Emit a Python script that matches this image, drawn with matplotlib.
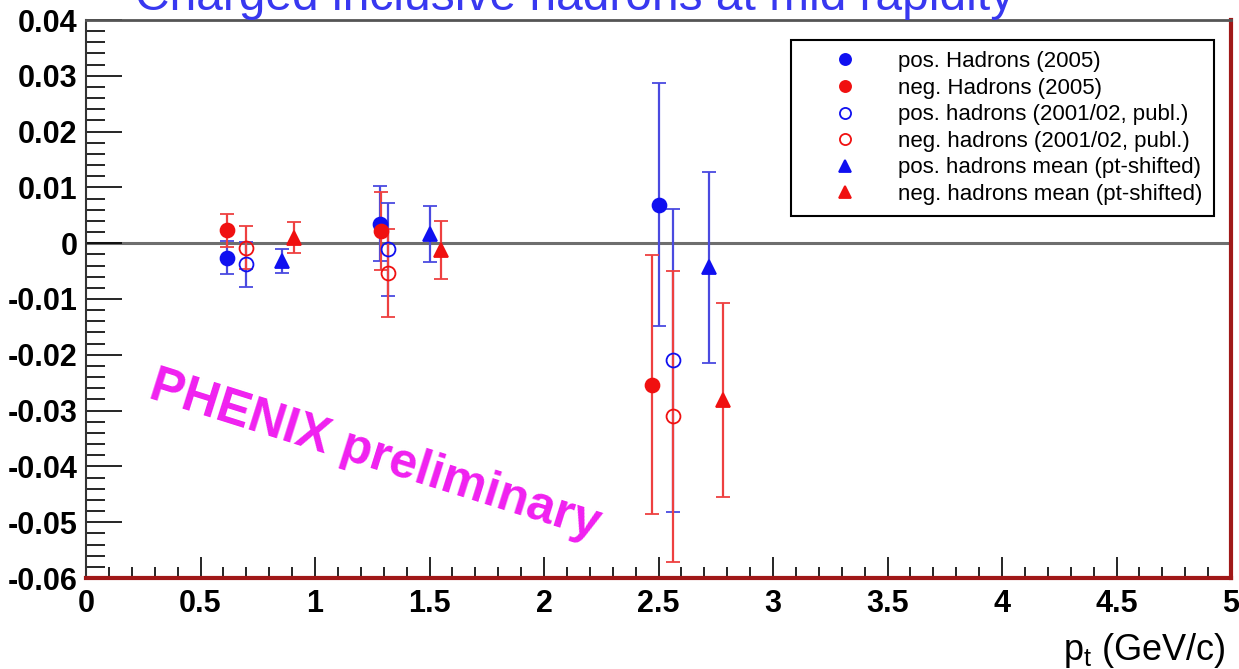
import matplotlib
matplotlib.use('Agg')
import matplotlib.pyplot as plt
from matplotlib.lines import Line2D
from matplotlib.ticker import MultipleLocator, FuncFormatter

plt.rcParams['font.family'] = ['Liberation Sans', 'DejaVu Sans']

# pos./neg. hadrons 2005
pos05_x = [0.614, 1.284, 2.503]
pos05_y = [-0.0026, 0.0035, 0.0069]
pos05_err = [0.0030, 0.0067, 0.0218]
neg05_x = [0.614, 1.290, 2.470]
neg05_y = [0.0023, 0.0022, -0.0254]
neg05_err = [0.0030, 0.0070, 0.0232]

# 2001/02 published
pos02_x = [0.697, 1.320, 2.565]
pos02_y = [-0.0038, -0.0011, -0.0210]
pos02_err = [0.0041, 0.0083, 0.0271]
neg02_x = [0.697, 1.320, 2.565]
neg02_y = [-0.0008, -0.0053, -0.0310]
neg02_err = [0.0038, 0.0079, 0.0261]

# mean values (pt-shifted)
posm_x = [0.854, 1.500, 2.720]
posm_y = [-0.0032, 0.0016, -0.0043]
posm_err = [0.0022, 0.0050, 0.0171]
negm_x = [0.910, 1.550, 2.780]
negm_y = [0.0010, -0.0012, -0.0281]
negm_err = [0.0028, 0.0052, 0.0173]

BLUE = '#1010f0'
RED = '#f01010'
EBLUE = '#4a4ae0'
ERED = '#ee4040'

fig = plt.figure(figsize=(12.39, 6.69), dpi=100)
ax = fig.add_axes([86 / 1239, 91 / 669, 1145 / 1239, 558 / 669])

ax.axhline(0, color='#6e6e6e', lw=2.2, zorder=1)

series = [
    (pos05_x, pos05_y, pos05_err, 'o', BLUE, BLUE, EBLUE, 'pos. Hadrons (2005)'),
    (neg05_x, neg05_y, neg05_err, 'o', RED, RED, ERED, 'neg. Hadrons (2005)'),
    (pos02_x, pos02_y, pos02_err, 'o', 'none', BLUE, EBLUE, 'pos. hadrons (2001/02, publ.)'),
    (neg02_x, neg02_y, neg02_err, 'o', 'none', RED, ERED, 'neg. hadrons (2001/02, publ.)'),
    (posm_x, posm_y, posm_err, '^', BLUE, BLUE, EBLUE, 'pos. hadrons mean (pt-shifted)'),
    (negm_x, negm_y, negm_err, '^', RED, RED, ERED, 'neg. hadrons mean (pt-shifted)'),
]
handles = []
for x, y, e, m, fc, ec, lc, lab in series:
    ax.errorbar(x, y, yerr=e, fmt=m, mfc=fc, mec=ec, mew=1.3, ms=10,
                ecolor=lc, elinewidth=1.6, capsize=5, capthick=1.6, zorder=3)
    # legend shows markers only
    handles.append(Line2D([], [], ls='none', marker=m, mfc=fc, mec=ec,
                          mew=1.3, ms=8, label=lab))

ax.set_xlim(0, 5)
ax.set_ylim(-0.06, 0.04)

ax.xaxis.set_major_locator(MultipleLocator(0.5))
ax.xaxis.set_minor_locator(MultipleLocator(0.1))
ax.yaxis.set_major_locator(MultipleLocator(0.01))
ax.yaxis.set_minor_locator(MultipleLocator(0.002))
ax.xaxis.set_major_formatter(FuncFormatter(lambda v, p: f'{v:g}'))
ax.yaxis.set_major_formatter(FuncFormatter(lambda v, p: '0' if abs(v) < 1e-9 else f'{v:.2f}'))

ax.tick_params(axis='both', which='both', direction='in', color='black')
ax.tick_params(axis='y', which='major', length=26, width=1.2, labelsize=22, pad=6)
ax.tick_params(axis='y', which='minor', length=14, width=1.2)
ax.tick_params(axis='x', which='major', length=15, width=1.2, labelsize=22, pad=8)
ax.tick_params(axis='x', which='minor', length=8, width=1.2)
for lbl in ax.get_xticklabels() + ax.get_yticklabels():
    lbl.set_fontweight('bold')

ax.spines['left'].set_color('#333333')
ax.spines['top'].set_color('#555555')
ax.spines['left'].set_linewidth(1.5)
ax.spines['top'].set_linewidth(2)
ax.spines['right'].set_color('#a01818')
ax.spines['bottom'].set_color('#a01818')
ax.spines['right'].set_linewidth(3)
ax.spines['bottom'].set_linewidth(3)

leg = ax.legend(handles=handles, loc='upper right', bbox_to_anchor=(0.985, 0.964),
                fontsize=16, frameon=True, fancybox=False, edgecolor='black',
                framealpha=1, handlelength=3.9, handletextpad=0.45,
                labelspacing=0.25, borderpad=0.5, borderaxespad=0)
leg.get_frame().set_linewidth(1.5)

ax.text(1.26, -0.038, 'PHENIX preliminary', rotation=-17.5, color='#f020f0',
        fontsize=36, fontweight='bold', ha='center', va='center',
        rotation_mode='anchor')

fig.text(0.464, 0.985, 'Charged inclusive hadrons at mid rapidity',
         color='#3838f0', fontsize=34.5, ha='center', va='baseline')
fig.text(0.989, 0.028, r'p$_{\mathregular{t}}$ (GeV/c)', fontsize=26,
         ha='right', va='center')

fig.savefig('out.png', dpi=100)
